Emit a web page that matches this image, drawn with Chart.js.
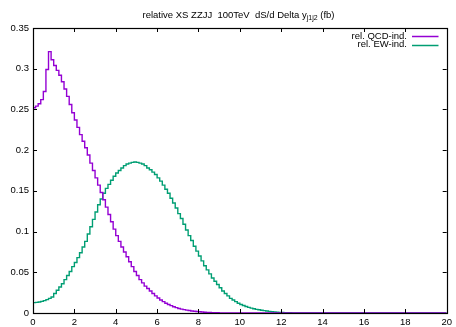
<!DOCTYPE html>
<html>
<head>
<meta charset="utf-8">
<script src="https://cdn.jsdelivr.net/npm/chart.js@4/dist/chart.umd.min.js"></script>
<style>
  html, body { margin: 0; padding: 0; background: #ffffff; }
  #c { display: block; }
</style>
</head>
<body>
<canvas id="c" width="456" height="327"></canvas>
<script>
// Histogram of dS/d(Delta y_j1j2), relative, ZZJJ at 100 TeV.
// Bins are 0.125 wide starting at 0; each value belongs to one bin.
const binWidth = 0.125;

const qcdInd = [
  0.252, 0.254, 0.257, 0.262, 0.272, 0.299, 0.321, 0.311, 0.304, 0.298,
  0.292, 0.284, 0.275, 0.266, 0.256, 0.246, 0.237, 0.228, 0.219, 0.211,
  0.203, 0.194, 0.184, 0.175, 0.166, 0.157, 0.148, 0.139, 0.130, 0.121,
  0.112, 0.103, 0.095, 0.088, 0.081, 0.075, 0.069, 0.063, 0.057, 0.051,
  0.046, 0.041, 0.037, 0.033, 0.030, 0.027, 0.024, 0.021, 0.0185, 0.016,
  0.014, 0.012, 0.0105, 0.009, 0.0077, 0.0066, 0.0056, 0.0048, 0.0041, 0.0035,
  0.0030, 0.0025, 0.0021, 0.0018, 0.0015, 0.0012, 0.0010, 0.0008, 0.0007, 0.0005,
  0.0004, 0.0003, 0.0002, 0.0002, 0.0001, 0.0001
];

const ewInd = [
  0.0128, 0.0131, 0.0136, 0.0143, 0.0152, 0.0164, 0.0179, 0.0196, 0.024, 0.028,
  0.032, 0.036, 0.041, 0.046, 0.051, 0.057, 0.062, 0.068, 0.074, 0.081,
  0.088, 0.097, 0.106, 0.115, 0.124, 0.133, 0.140, 0.147, 0.153, 0.158,
  0.163, 0.168, 0.172, 0.175, 0.178, 0.181, 0.183, 0.184, 0.185, 0.1855,
  0.185, 0.184, 0.183, 0.181, 0.178, 0.176, 0.173, 0.170, 0.166, 0.162,
  0.157, 0.152, 0.147, 0.141, 0.135, 0.129, 0.122, 0.116, 0.109, 0.102,
  0.095, 0.089, 0.082, 0.076, 0.070, 0.064, 0.058, 0.053, 0.048, 0.043,
  0.039, 0.035, 0.031, 0.027, 0.024, 0.021, 0.018, 0.016, 0.014, 0.012,
  0.0105, 0.0092, 0.0080, 0.0069, 0.0060, 0.0052, 0.0045, 0.0039, 0.0034, 0.0029,
  0.0024, 0.0020, 0.0016, 0.0013, 0.0010, 0.0008, 0.0006, 0.0005, 0.0004, 0.0003,
  0.0002, 0.0001, 0.0001
];

const seriesLabels = ['rel. QCD-ind.', 'rel. EW-ind.'];
const xTicks = [0, 2, 4, 6, 8, 10, 12, 14, 16, 18, 20];
const yTicks = [0, 0.05, 0.1, 0.15, 0.2, 0.25, 0.3, 0.35];
const xMax = 20;

// Turn bin contents into left-edge points for a step-before line,
// closing the last bin and running along zero to the end of the axis.
function histPoints(values) {
  const pts = values.map((v, i) => ({ x: i * binWidth, y: v }));
  pts.push({ x: values.length * binWidth, y: 0 });
  pts.push({ x: xMax, y: 0 });
  return pts;
}

const FONT = '"Liberation Sans", Arial, Helvetica, sans-serif';
const colors = ['#9400d3', '#009e73'];

// Frame, inward ticks on all four sides, title with subscript, key.
const gnuFrame = {
  id: 'gnuFrame',
  afterDraw(chart) {
    const { ctx, chartArea: a, scales } = chart;
    const xs = scales.x, ys = scales.y;
    ctx.save();
    ctx.strokeStyle = '#000000';
    ctx.lineWidth = 1;
    const tl = 4;
    ctx.beginPath();
    xTicks.forEach(v => {
      const px = Math.round(xs.getPixelForValue(v)) + 0.5;
      ctx.moveTo(px, a.bottom); ctx.lineTo(px, a.bottom - tl);
      ctx.moveTo(px, a.top); ctx.lineTo(px, a.top + tl);
    });
    yTicks.forEach(v => {
      const py = Math.round(ys.getPixelForValue(v)) + 0.5;
      ctx.moveTo(a.left, py); ctx.lineTo(a.left + tl, py);
      ctx.moveTo(a.right, py); ctx.lineTo(a.right - tl, py);
    });
    ctx.stroke();
    ctx.lineWidth = 1.2;
    ctx.strokeRect(Math.round(a.left) + 0.5, Math.round(a.top) + 0.5,
                   Math.round(a.right - a.left), Math.round(a.bottom - a.top));

    // title
    ctx.fillStyle = '#000000';
    ctx.textBaseline = 'alphabetic';
    const mainTxt = 'relative XS ZZJJ  100TeV  dS/d Delta y';
    const subTxt = 'j1j2';
    const tailTxt = ' (fb)';
    ctx.font = '9.5px ' + FONT;
    const w1 = ctx.measureText(mainTxt).width;
    const w3 = ctx.measureText(tailTxt).width;
    ctx.font = '7px ' + FONT;
    const w2 = ctx.measureText(subTxt).width;
    const cx = 238.5;
    let tx = cx - (w1 + w2 + w3) / 2;
    ctx.font = '9.5px ' + FONT;
    ctx.fillText(mainTxt, tx, 18);
    tx += w1;
    ctx.font = '7px ' + FONT;
    ctx.fillText(subTxt, tx, 20);
    tx += w2;
    ctx.font = '9.5px ' + FONT;
    ctx.fillText(tailTxt, tx, 18);

    // key
    ctx.textAlign = 'right';
    ctx.textBaseline = 'middle';
    ctx.font = '9.5px ' + FONT;
    seriesLabels.forEach((lab, i) => {
      const y = 36 + i * 8.5;
      ctx.fillStyle = '#000000';
      ctx.fillText(lab, 407, y);
      ctx.strokeStyle = colors[i];
      ctx.lineWidth = 1.5;
      ctx.beginPath();
      ctx.moveTo(412, Math.round(y) + 0.5);
      ctx.lineTo(438.5, Math.round(y) + 0.5);
      ctx.stroke();
    });
    ctx.restore();
  }
};

const fmt = v => String(Number(v.toFixed(2)));

new Chart(document.getElementById('c'), {
  type: 'line',
  data: {
    datasets: [
      { label: seriesLabels[0], data: histPoints(qcdInd), borderColor: colors[0],
        borderWidth: 1.4, stepped: 'before', pointRadius: 0, fill: false },
      { label: seriesLabels[1], data: histPoints(ewInd), borderColor: colors[1],
        borderWidth: 1.4, stepped: 'before', pointRadius: 0, fill: false }
    ]
  },
  options: {
    responsive: false,
    animation: false,
    devicePixelRatio: 1,
    layout: { padding: { top: 28, right: 7, bottom: 0, left: 0 } },
    plugins: { legend: { display: false }, title: { display: false }, tooltip: { enabled: false } },
    scales: {
      x: {
        type: 'linear', min: 0, max: xMax,
        grid: { display: false, drawTicks: false },
        border: { display: false },
        afterBuildTicks: s => { s.ticks = xTicks.map(v => ({ value: v })); },
        afterFit: s => { s.height = 14; },
        ticks: { padding: 4, color: '#000000', font: { family: FONT, size: 9.5 },
                 maxRotation: 0, callback: v => fmt(v) }
      },
      y: {
        type: 'linear', min: 0, max: 0.35,
        grid: { display: false, drawTicks: false },
        border: { display: false },
        afterBuildTicks: s => { s.ticks = yTicks.map(v => ({ value: v })); },
        afterFit: s => { s.width = 33; },
        ticks: { padding: 4, color: '#000000', font: { family: FONT, size: 9.5 },
                 callback: v => fmt(v) }
      }
    }
  },
  plugins: [gnuFrame]
});
</script>
</body>
</html>
